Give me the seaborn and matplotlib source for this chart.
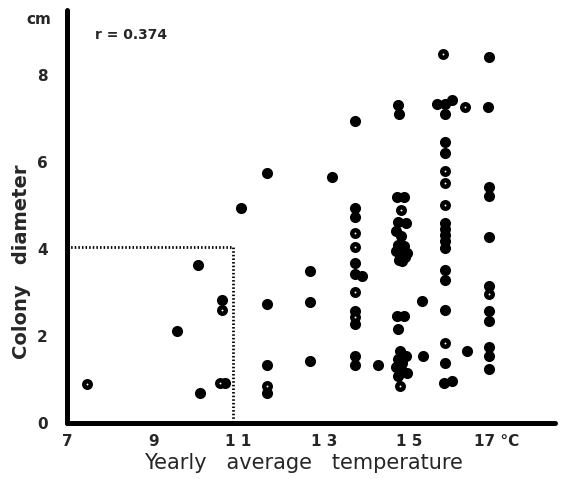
import matplotlib
matplotlib.use("Agg")
import matplotlib.pyplot as plt
import matplotlib.transforms as mtransforms
import seaborn as sns
import pandas as pd

# ---- data ----
temp_filled = [9.47, 9.96, 10.0, 10.5, 10.57, 10.93,
               11.51, 11.51, 11.51, 11.51,
               12.48, 12.48, 12.48, 12.97,
               13.5, 13.5, 13.5, 13.5, 13.5, 13.5, 13.5, 13.5, 13.5, 13.65,
               14.0,
               14.47, 14.48, 14.43, 14.6, 14.45, 14.65, 14.42, 14.52, 14.45, 14.6,
               14.67, 14.42, 14.5, 14.62, 14.48, 14.55,
               14.43, 14.6, 14.45,
               14.5, 14.65, 14.45, 14.56, 14.42, 14.52, 14.67, 14.45,
               15.0, 15.02,
               15.35, 15.53, 15.68, 15.53, 15.53, 15.53, 15.53, 15.53, 15.53,
               15.53, 15.53, 15.53, 15.53, 15.53, 15.53, 15.49, 15.67,
               16.02,
               16.52, 16.49, 16.52, 16.52, 16.52, 16.52, 16.52, 16.52, 16.52,
               16.52, 16.52]
diam_filled = [2.12, 3.63, 0.69, 2.84, 0.93, 4.95,
               5.76, 2.73, 1.34, 0.70,
               3.49, 2.78, 1.42, 5.67,
               6.95, 4.95, 4.75, 3.67, 3.42, 2.57, 2.27, 1.54, 1.33, 3.39,
               1.34,
               7.32, 7.10, 5.21, 5.21, 4.62, 4.60, 4.42, 4.30, 4.10, 4.08,
               3.92, 3.95, 3.85, 3.82, 3.75, 3.72,
               2.46, 2.46, 2.17,
               1.66, 1.54, 1.47, 1.39, 1.28, 1.24, 1.16, 1.08,
               2.80, 1.54,
               7.34, 7.34, 7.43, 7.11, 6.46, 6.21, 4.60, 4.46, 4.33,
               4.18, 4.03, 3.53, 3.29, 2.61, 1.39, 0.93, 0.97,
               1.66,
               8.42, 7.28, 5.44, 5.23, 4.28, 3.15, 2.58, 2.35, 1.74,
               1.54, 1.24]

temp_open = [7.45, 10.49, 10.44, 11.51, 13.5, 13.5, 13.5, 13.5, 14.53, 14.5,
             15.53, 15.53, 15.53, 15.53, 15.98, 15.47, 16.52]
diam_open = [0.89, 2.60, 0.93, 0.86, 4.36, 4.04, 3.01, 2.43, 4.90, 0.86,
             5.02, 5.80, 5.53, 1.83, 7.28, 8.48, 2.96]

x_ticks = [7, 9, 11, 13, 15, 17]
x_tick_labels = ["7", "9", "1 1", "1 3", "1 5", "17 \u00b0C"]
y_ticks = [0, 2, 4, 6, 8]
y_tick_labels = ["0", "2", "4", "6", "8"]
box_temp = 10.75
box_diam = 4.05
r_text = "r = 0.374"

df_f = pd.DataFrame({"temp": temp_filled, "diam": diam_filled})
df_o = pd.DataFrame({"temp": temp_open, "diam": diam_open})

sns.set_style("white")
plt.rcParams["font.family"] = ["DejaVu Sans"]

fig = plt.figure(figsize=(5.61, 4.79), dpi=100)
ax = fig.add_axes([67 / 561, 1 - 423 / 479, (555 - 67) / 561, (423 - 10) / 479])

sns.scatterplot(data=df_f, x="temp", y="diam", ax=ax, s=64, color="black",
                linewidth=0, zorder=3, legend=False)
sns.scatterplot(data=df_o, x="temp", y="diam", ax=ax, s=22, facecolor="white",
                edgecolor="black", linewidth=3.2, zorder=3, legend=False)

ax.plot([7, box_temp, box_temp], [box_diam, box_diam, 0], color="black",
        linestyle=(0, (0.55, 0.75)), linewidth=2.0, zorder=2)

ax.set_xlim(7, 18)
ax.set_ylim(0, 9.5)

for s in ["top", "right"]:
    ax.spines[s].set_visible(False)
for s in ["left", "bottom"]:
    ax.spines[s].set_linewidth(3.6)
    ax.spines[s].set_color("black")
    ax.spines[s].set_capstyle("round")

ax.set_xticks(x_ticks)
ax.set_xticklabels(x_tick_labels, fontsize=11, fontweight="bold")
ax.set_yticks(y_ticks)
ax.set_yticklabels(y_tick_labels, fontsize=11, fontweight="bold")
ax.set_xticks(list(range(8, 18)), minor=True)
ax.set_yticks(list(range(1, 10)), minor=True)
ax.tick_params(axis="both", which="both", direction="in", length=3, width=1.5,
               color="black")
ax.tick_params(axis="x", which="major", pad=8)
ax.tick_params(axis="y", which="major", pad=14)

# the printed tick labels sit slightly left of their tick marks
x_label_shift_px = [0, -2, -6, -9, -13, -14]
for lab, dx in zip(ax.get_xticklabels(), x_label_shift_px):
    lab.set_transform(lab.get_transform() +
                      mtransforms.ScaledTranslation(dx / 100, 0, fig.dpi_scale_trans))

ax.set_xlabel("Yearly   average   temperature", fontsize=15)
ax.xaxis.set_label_coords((303 - 67) / 488, -(453 - 423) / 413)
ax.set_ylabel("Colony   diameter", fontsize=14, fontweight="bold")
ax.yaxis.set_label_coords(-(67 - 31) / 488, (423 - 262) / 413)

ax.text(-0.057, 0.976, "cm", transform=ax.transAxes, fontsize=11,
        fontweight="bold", ha="center", va="center")
ax.text(0.058, 0.94, r_text, transform=ax.transAxes, fontsize=10,
        fontweight="bold", ha="left", va="center")

fig.savefig("out.png", dpi=100)
